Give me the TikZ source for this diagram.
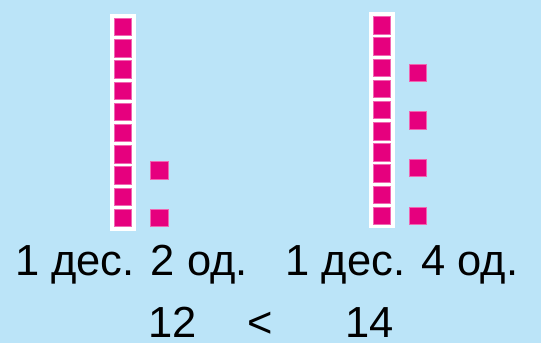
\documentclass[tikz,border=0pt]{standalone}
\usepackage{fontspec}
\setmainfont{Liberation Sans}
\usepackage{tikz}
\usetikzlibrary{positioning}
\definecolor{sky}{RGB}{187,228,248}
\definecolor{ruby}{RGB}{230,0,126}
\tikzset{
  unit/.style={draw=ruby!60,fill=ruby,line width=0.6pt,minimum size=17.4pt,
    inner sep=0pt,outer sep=0pt},
  strip/.style={draw=white,fill=white,line width=0.6pt},
  lbl/.style={font=\fontsize{43.5}{48}\selectfont,anchor=base,inner sep=0pt},
}
\begin{document}
\begin{tikzpicture}[x=1pt,y=-1pt]
  \fill[sky] (0,0) rectangle (541,343);
  \useasboundingbox (0,0) rectangle (541,343);
  % ten on the left, ones beside it
  \fill[strip] (110.3,14.3) rectangle (135.7,230);
  \foreach \i in {0,...,9} {
    \node[unit] (ta\i) at (123,27+\i*21.2) {};
  }
  \foreach \i/\y in {1/170.2,2/217.7} {
    \node[unit] (oa\i) at (159.2,\y) {};
  }
  % ten on the right, ones beside it
  \fill[strip] (369,12.3) rectangle (394,227.7);
  \foreach \i in {0,...,9} {
    \node[unit] (tb\i) at (381.5,25.3+\i*21.16) {};
  }
  \foreach \i/\y in {1/72.8,2/120.4,3/168,4/215.7} {
    \node[unit] (ob\i) at (418,\y) {};
  }
  % labels
  \node[lbl] (capa) at (131.5,275) {1 дес. 2 од.};
  \node[lbl] (capb) at (402,275) {1 дес. 4 од.};
  \node[lbl] (numa) at (172.5,337.5) {12};
  \node[lbl] (rel) at (260.5,337.5) {<};
  \node[lbl] (numb) at (369.5,337.5) {14};
\end{tikzpicture}
\end{document}
